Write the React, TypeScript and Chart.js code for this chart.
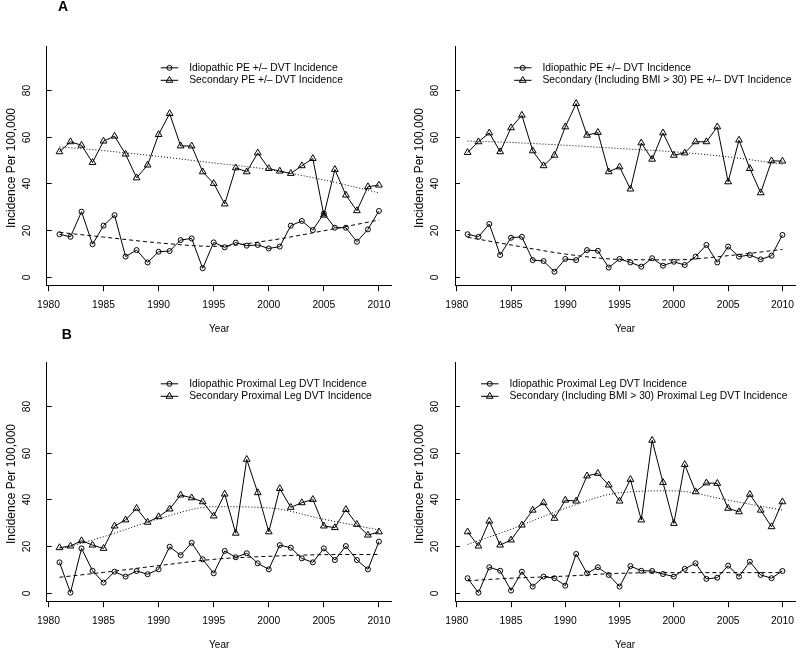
import React, { useEffect, useRef } from 'react';
import { Chart, registerables } from 'chart.js';

Chart.register(...registerables);

const FAMILY = "'Liberation Sans', Arial, Helvetica, sans-serif";
Chart.defaults.font.family = FAMILY;
Chart.defaults.color = '#000';

// ---------------- data ----------------
const years = [1981, 1982, 1983, 1984, 1985, 1986, 1987, 1988, 1989, 1990,
  1991, 1992, 1993, 1994, 1995, 1996, 1997, 1998, 1999, 2000,
  2001, 2002, 2003, 2004, 2005, 2006, 2007, 2008, 2009, 2010];
const trendYears = [1981, 1985, 1990, 1995, 2000, 2005, 2010];
const xTickValues = [1980, 1985, 1990, 1995, 2000, 2005, 2010];
const yTickValues = [0, 20, 40, 60, 80];

// Panel A (left): PE +/- DVT
const peIdiopathic = [18.2, 17.1, 27.9, 13.9, 21.9, 26.4, 8.6, 11.4, 6.1, 10.7,
  11.0, 15.7, 16.4, 3.6, 14.7, 12.6, 14.6, 13.3, 13.6, 12.1,
  12.9, 21.9, 23.9, 20.0, 27.1, 21.0, 21.0, 15.0, 20.3, 28.2];
const peSecondary = [53.6, 57.9, 56.4, 49.0, 58.2, 60.3, 52.6, 42.4, 47.9, 61.0,
  70.0, 56.1, 56.1, 45.0, 40.0, 31.2, 46.7, 45.0, 53.1, 46.4,
  45.3, 44.3, 47.6, 50.7, 26.4, 46.0, 35.0, 28.3, 38.6, 39.3];
const peIdiopathicTrend = [19.0, 17.0, 14.5, 13.0, 15.5, 19.7, 24.3];
const peSecondaryTrend = [55.7, 54.1, 51.6, 48.8, 46.0, 41.5, 36.0];

// Panel A (right): PE +/- DVT, secondary including BMI > 30
const peBmiIdiopathic = [18.2, 17.1, 22.6, 9.3, 16.7, 17.1, 7.1, 6.7, 2.1, 7.6,
  7.1, 11.4, 11.1, 3.9, 7.6, 6.1, 4.3, 7.9, 4.7, 6.4,
  5.0, 8.6, 13.6, 6.1, 12.9, 8.6, 9.3, 7.4, 9.0, 17.9];
const peBmiSecondary = [53.3, 57.9, 61.7, 53.6, 63.9, 69.3, 54.0, 47.6, 52.1, 64.3,
  74.3, 60.7, 61.9, 45.0, 47.1, 37.6, 57.4, 50.4, 61.7, 52.1,
  53.1, 57.9, 57.9, 64.3, 40.7, 58.6, 46.4, 36.0, 49.7, 49.6];
const peBmiIdiopathicTrend = [16.9, 13.6, 9.7, 7.4, 7.2, 9.0, 11.7];
const peBmiSecondaryTrend = [58.2, 57.6, 56.4, 55.0, 53.6, 51.4, 48.3];

// Panel B (left): proximal leg DVT
const dvtIdiopathic = [13.0, 0.0, 19.0, 9.4, 4.3, 9.0, 6.9, 9.3, 7.9, 10.0,
  19.7, 16.1, 21.4, 14.3, 8.3, 17.9, 15.2, 16.9, 12.6, 10.0,
  20.4, 19.3, 14.7, 13.0, 19.0, 14.0, 20.0, 14.0, 10.0, 21.9];
const dvtSecondary = [19.3, 20.0, 22.3, 20.4, 19.0, 28.6, 31.2, 36.2, 30.2, 32.6,
  35.9, 41.9, 40.7, 39.0, 32.9, 42.3, 25.5, 57.2, 42.9, 26.1,
  44.7, 36.6, 38.6, 40.0, 28.6, 27.9, 35.7, 29.3, 24.7, 26.1];
const dvtIdiopathicTrend = [6.6, 8.7, 11.6, 14.3, 15.6, 16.3, 16.4];
const dvtSecondaryTrend = [18.6, 24.0, 31.7, 36.9, 36.4, 31.5, 26.9];

// Panel B (right): proximal leg DVT, secondary including BMI > 30
const dvtBmiIdiopathic = [6.2, 0.0, 10.9, 9.4, 0.9, 9.0, 2.6, 6.9, 6.2, 3.0,
  16.6, 8.3, 10.9, 7.6, 2.6, 11.4, 9.4, 9.3, 8.0, 6.9,
  10.2, 12.6, 5.9, 6.4, 11.6, 6.9, 13.3, 7.6, 6.2, 9.3];
const dvtBmiSecondary = [26.1, 20.0, 30.7, 20.4, 22.6, 29.0, 35.4, 38.6, 31.9, 39.7,
  39.3, 50.1, 51.2, 46.2, 39.3, 48.6, 31.2, 65.4, 47.3, 29.7,
  55.0, 43.3, 47.1, 46.9, 36.2, 34.7, 42.2, 35.4, 28.3, 39.0];
const dvtBmiIdiopathicTrend = [5.1, 6.2, 7.1, 8.3, 8.6, 8.6, 8.6];
const dvtBmiSecondaryTrend = [20.7, 27.2, 36.2, 42.9, 43.7, 39.7, 35.4];

const legendA1 = ['Idiopathic PE +/\u2013 DVT Incidence', 'Secondary PE +/\u2013 DVT Incidence'];
const legendA2 = ['Idiopathic PE +/\u2013 DVT Incidence', 'Secondary (Including BMI > 30) PE +/\u2013 DVT Incidence'];
const legendB1 = ['Idiopathic Proximal Leg DVT Incidence', 'Secondary Proximal Leg DVT Incidence'];
const legendB2 = ['Idiopathic Proximal Leg DVT Incidence', 'Secondary (Including BMI > 30) Proximal Leg DVT Incidence'];

// ---------------- layout ----------------
const CW = 400;
const CH = 333;
const X_MIN = 1979.84;
const X_MAX = 2011.16;
const Y_MIN = -3.8;
const Y_MAX = 98.8;

type PanelCfg = {
  left: number; top: number; padL: number; padR: number;
  idio: number[]; sec: number[]; idioTrend: number[]; secTrend: number[];
  legend: string[]; legendDx: number; letter?: string; letterDx?: number; letterY?: number;
};

const panels: PanelCfg[] = [
  { left: 0, top: 0, padL: 0, padR: 8.3, idio: peIdiopathic, sec: peSecondary, idioTrend: peIdiopathicTrend, secTrend: peSecondaryTrend, legend: legendA1, legendDx: 114, letter: 'A', letterDx: 16.3, letterY: 7 },
  { left: 400, top: 0, padL: 8.3, padR: 0, idio: peBmiIdiopathic, sec: peBmiSecondary, idioTrend: peBmiIdiopathicTrend, secTrend: peBmiSecondaryTrend, legend: legendA2, legendDx: 59 },
  { left: 0, top: 316, padL: 0, padR: 8.3, idio: dvtIdiopathic, sec: dvtSecondary, idioTrend: dvtIdiopathicTrend, secTrend: dvtSecondaryTrend, legend: legendB1, legendDx: 114, letter: 'B', letterDx: 20, letterY: 19.5 },
  { left: 400, top: 316, padL: 8.3, padR: 0, idio: dvtBmiIdiopathic, sec: dvtBmiSecondary, idioTrend: dvtBmiIdiopathicTrend, secTrend: dvtBmiSecondaryTrend, legend: legendB2, legendDx: 26 },
];

function drawMarker(ctx: CanvasRenderingContext2D, shape: string, x: number, y: number) {
  ctx.beginPath();
  if (shape === 'circle') {
    ctx.arc(x, y, 2.5, 0, Math.PI * 2);
  } else {
    const r = 3.9;
    const s = Math.sin(Math.PI / 3) * r;
    ctx.moveTo(x, y - r);
    ctx.lineTo(x + s, y + r / 2);
    ctx.lineTo(x - s, y + r / 2);
    ctx.closePath();
  }
  ctx.stroke();
}

function makeDecor(p: PanelCfg) {
  return {
    id: 'rDecor',
    afterDraw(chart: any) {
      const ctx: CanvasRenderingContext2D = chart.ctx;
      const ca = chart.chartArea;
      const ys = chart.scales.y;
      ctx.save();
      ctx.strokeStyle = '#000';
      ctx.fillStyle = '#000';
      ctx.lineWidth = 1;
      // y ticks (inward) and rotated labels
      ctx.font = `10.3px ${FAMILY}`;
      ctx.textAlign = 'center';
      ctx.textBaseline = 'middle';
      yTickValues.forEach((v) => {
        const py = Math.round(ys.getPixelForValue(v)) + 0.5;
        ctx.beginPath();
        ctx.moveTo(ca.left, py);
        ctx.lineTo(ca.left + 5, py);
        ctx.stroke();
        ctx.save();
        ctx.translate(ca.left - 19.4, py);
        ctx.rotate(-Math.PI / 2);
        ctx.fillText(String(v), 0, 0);
        ctx.restore();
      });
      // y title
      ctx.save();
      ctx.font = `12px ${FAMILY}`;
      ctx.translate(ca.left - 35, (ca.top + ca.bottom) / 2 + 2);
      ctx.rotate(-Math.PI / 2);
      ctx.fillText('Incidence Per 100,000', 0, 0);
      ctx.restore();
      // x title
      ctx.font = `10px ${FAMILY}`;
      ctx.fillText('Year', (ca.left + ca.right) / 2, ca.bottom + 44);
      // panel letter
      if (p.letter) {
        ctx.font = `bold 14px ${FAMILY}`;
        ctx.fillText(p.letter, ca.left + (p.letterDx || 0), p.letterY || 0);
      }
      // legend
      const L = ca.left + p.legendDx;
      const rows = [ca.top + 21.3, ca.top + 33.8];
      const shapes = ['circle', 'triangle'];
      ctx.font = `10.3px ${FAMILY}`;
      ctx.textAlign = 'left';
      rows.forEach((yy, i) => {
        ctx.beginPath();
        ctx.moveTo(L, yy);
        ctx.lineTo(L + 17.5, yy);
        ctx.stroke();
        drawMarker(ctx, shapes[i], L + 8.75, yy);
        ctx.fillText(p.legend[i], L + 28.5, yy);
      });
      ctx.restore();
    },
  };
}

function Panel({ cfg }: { cfg: PanelCfg }) {
  const ref = useRef<HTMLCanvasElement>(null);
  useEffect(() => {
    const pts = (xs: number[], vs: number[]) => xs.map((x, i) => ({ x, y: vs[i] }));
    const chart = new Chart(ref.current as HTMLCanvasElement, {
      type: 'line',
      data: {
        datasets: [
          {
            data: pts(years, cfg.sec),
            borderColor: '#000', borderWidth: 1, tension: 0,
            pointStyle: 'triangle', pointRadius: 3.9, pointBorderWidth: 1,
            pointBorderColor: '#000', pointBackgroundColor: 'rgba(0,0,0,0)',
          },
          {
            data: pts(years, cfg.idio),
            borderColor: '#000', borderWidth: 1, tension: 0,
            pointStyle: 'circle', pointRadius: 2.5, pointBorderWidth: 1,
            pointBorderColor: '#000', pointBackgroundColor: 'rgba(0,0,0,0)',
          },
          {
            data: pts(trendYears, cfg.secTrend),
            borderColor: '#000', borderWidth: 1, borderDash: [1, 2],
            pointRadius: 0, cubicInterpolationMode: 'monotone',
          },
          {
            data: pts(trendYears, cfg.idioTrend),
            borderColor: '#000', borderWidth: 1, borderDash: [4, 3],
            pointRadius: 0, cubicInterpolationMode: 'monotone',
          },
        ] as any,
      },
      options: {
        animation: false,
        responsive: false,
        devicePixelRatio: 1,
        layout: { padding: { left: cfg.padL, right: cfg.padR, top: 46.5, bottom: 0 } },
        plugins: { legend: { display: false }, tooltip: { enabled: false } },
        scales: {
          x: {
            type: 'linear', min: X_MIN, max: X_MAX,
            afterBuildTicks: (s: any) => { s.ticks = xTickValues.map((v) => ({ value: v })); },
            afterFit: (s: any) => { s.height = CH - 285.5; s.paddingLeft = 0; s.paddingRight = 0; },
            ticks: {
              color: '#000', font: { size: 10.3, family: FAMILY }, padding: 8,
              maxRotation: 0, minRotation: 0, autoSkip: false,
              callback: (v: any) => String(v),
            },
            grid: {
              display: true, drawOnChartArea: false, drawTicks: true, tickLength: 5.7,
              color: '#000', tickColor: '#000', lineWidth: 1,
            },
            border: { display: true, color: '#000', width: 1 },
          },
          y: {
            type: 'linear', min: Y_MIN, max: Y_MAX,
            afterFit: (s: any) => { s.width = 46.7; s.paddingTop = 0; s.paddingBottom = 0; },
            ticks: { display: false },
            grid: { display: false },
            border: { display: true, color: '#000', width: 1 },
          },
        },
      } as any,
      plugins: [makeDecor(cfg)],
    });
    return () => chart.destroy();
  }, []);
  return (
    <canvas
      ref={ref}
      width={CW}
      height={CH}
      style={{ position: 'absolute', left: cfg.left, top: cfg.top, width: CW, height: CH }}
    />
  );
}

export default function App() {
  return (
    <div style={{ position: 'absolute', left: 0, top: 0, width: 800, height: 649, background: '#fff', overflow: 'hidden' }}>
      {panels.map((p, i) => <Panel key={i} cfg={p} />)}
    </div>
  );
}
